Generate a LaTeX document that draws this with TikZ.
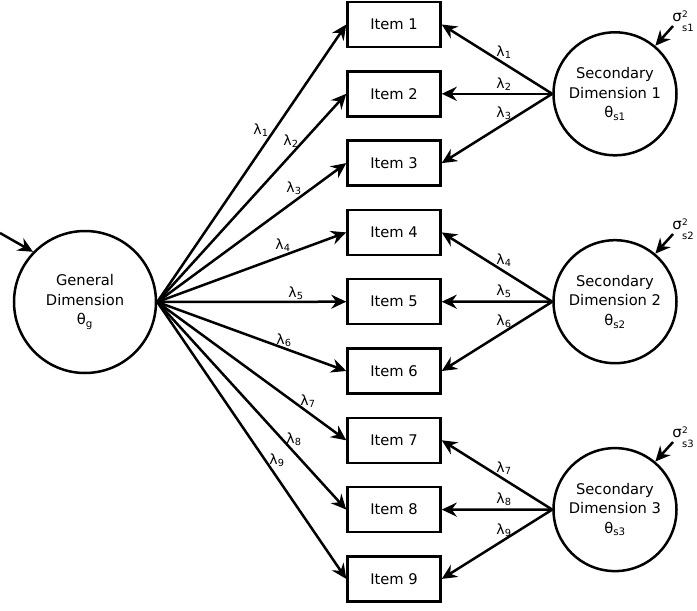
\documentclass[tikz,border=0pt]{standalone}
\usepackage{fontspec}
\setmainfont{DejaVu Sans}
\usetikzlibrary{arrows.meta}
\newcommand{\sigmalabel}[1]{σ\kern0.3pt\raisebox{-3.5pt}{\begin{tabular}{@{}l@{}}\fontsize{9}{8}\selectfont 2\\[-3pt]\fontsize{10}{9}\selectfont s#1\end{tabular}}}
\begin{document}
\begin{tikzpicture}[x=1pt,y=-1pt,
  itembox/.style={draw,line width=2.5pt,minimum width=93pt,minimum height=45pt,inner sep=0pt,font=\fontsize{14.7}{17}\selectfont},
  latent/.style={draw,circle,line width=2.5pt,inner sep=0pt,align=center,font=\fontsize{14.7}{19.5}\selectfont},
  lam/.style={inner sep=0pt,font=\fontsize{14}{16}\selectfont},
  arr/.style={line width=2.5pt,-{Stealth[length=15pt,width=14pt,inset=5pt]}}]
\useasboundingbox (0,0) rectangle (697,611);
% latent variables
\node[latent,minimum size=142pt] (g) at (85,302) {General\\Dimension\\θ\textsubscript{g}};
\node[latent,minimum size=123pt] (s1) at (615,93.8) {Secondary\\Dimension 1\\θ\textsubscript{s1}};
\node[latent,minimum size=123pt] (s2) at (615,301.7) {Secondary\\Dimension 2\\θ\textsubscript{s2}};
\node[latent,minimum size=123pt] (s3) at (615,509.6) {Secondary\\Dimension 3\\θ\textsubscript{s3}};
% items
\foreach \i in {1,...,9}{
  \node[itembox] (i\i) at (394,{24.5+69.3*(\i-1)}) {Item \i};
}
% general loadings
\foreach \i in {1,...,9}{
  \draw[arr] (g.east) -- (i\i.west);
}
% secondary loadings
\foreach \i in {1,2,3}{\draw[arr] (s1.west) -- (i\i.east);}
\foreach \i in {4,5,6}{\draw[arr] (s2.west) -- (i\i.east);}
\foreach \i in {7,8,9}{\draw[arr] (s3.west) -- (i\i.east);}
% general loading labels
\node[lam] (lg1) at (261,130) {λ\textsubscript{1}};
\node[lam] (lg2) at (291,141) {λ\textsubscript{2}};
\node[lam] (lg3) at (294,188) {λ\textsubscript{3}};
\node[lam] (lg4) at (283,245) {λ\textsubscript{4}};
\node[lam] (lg5) at (296,293) {λ\textsubscript{5}};
\node[lam] (lg6) at (284,340) {λ\textsubscript{6}};
\node[lam] (lg7) at (308,401) {λ\textsubscript{7}};
\node[lam] (lg8) at (294,439) {λ\textsubscript{8}};
\node[lam] (lg9) at (277,460) {λ\textsubscript{9}};
% secondary loading labels
\node[lam] (ls1) at (504,52) {λ\textsubscript{1}};
\node[lam] (ls2) at (504,84) {λ\textsubscript{2}};
\node[lam] (ls3) at (504,113) {λ\textsubscript{3}};
\node[lam] (ls4) at (504,260) {λ\textsubscript{4}};
\node[lam] (ls5) at (504,291) {λ\textsubscript{5}};
\node[lam] (ls6) at (504,321) {λ\textsubscript{6}};
\node[lam] (ls7) at (504,468) {λ\textsubscript{7}};
\node[lam] (ls8) at (504,499) {λ\textsubscript{8}};
\node[lam] (ls9) at (504,530) {λ\textsubscript{9}};
% residual arrows
\coordinate (ge) at (0,233);
\draw[arr] (ge) -- (g.136);
\foreach \k/\y in {1/0,2/208,3/416}{
  \coordinate (e\k) at (673,{26+\y});
  \draw[arr] (e\k) -- (s\k.50);
  \node[inner sep=0pt,font=\fontsize{15}{17}\selectfont] (sig\k) at (683,{21+\y}) {\sigmalabel{\k}};
}
\end{tikzpicture}
\end{document}
